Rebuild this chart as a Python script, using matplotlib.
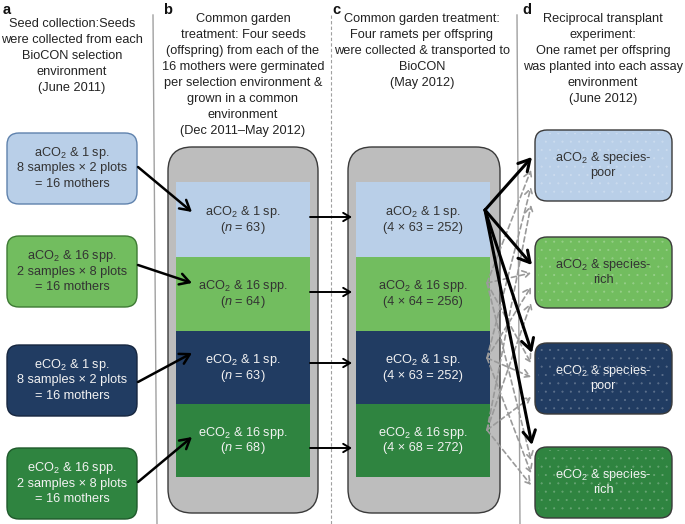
import matplotlib
matplotlib.use('Agg')
import matplotlib.pyplot as plt
from matplotlib.patches import FancyBboxPatch, Rectangle

plt.rcParams['font.family'] = ['Liberation Sans', 'DejaVu Sans']
plt.rcParams['mathtext.fontset'] = 'custom'
plt.rcParams['mathtext.rm'] = 'Liberation Sans'
plt.rcParams['mathtext.it'] = 'Liberation Sans:italic'
plt.rcParams['mathtext.default'] = 'regular'
plt.rcParams['hatch.linewidth'] = 0.3

# ---------------- data ----------------
panel_letters = ['a', 'b', 'c', 'd']
headers = [
    'Seed collection:Seeds\nwere collected from each\nBioCON selection\nenvironment\n(June 2011)',
    'Common garden\ntreatment: Four seeds\n(offspring) from each of the\n16 mothers were germinated\nper selection environment &\ngrown in a common\nenvironment\n(Dec 2011\u2013May 2012)',
    'Common garden treatment:\nFour ramets per offspring\nwere collected & transported to\nBioCON\n(May 2012)',
    'Reciprocal transplant\nexperiment:\nOne ramet per offspring\nwas planted into each assay\nenvironment\n(June 2012)',
]
groups = ['aCO$_2$ & 1 sp.', 'aCO$_2$ & 16 spp.', 'eCO$_2$ & 1 sp.', 'eCO$_2$ & 16 spp.']
designs = ['8 samples \u00d7 2 plots', '2 samples \u00d7 8 plots',
           '8 samples \u00d7 2 plots', '2 samples \u00d7 8 plots']
mothers = [16, 16, 16, 16]
offspring = [63, 64, 63, 68]
ramets_per_offspring = 4
assay_envs = ['aCO$_2$ & species-\npoor', 'aCO$_2$ & species-\nrich',
              'eCO$_2$ & species-\npoor', 'eCO$_2$ & species-\nrich']
fill_colors = ['#b9cfe8', '#72bd5f', '#213c62', '#2f8440']
edge_colors = ['#5f82ad', '#3d7a33', '#16263f', '#1f5a2b']
text_colors = ['#333333', '#333333', '#f2f2f2', '#f2f2f2']

# ---------------- figure ----------------
fig = plt.figure(figsize=(6.85, 5.24), dpi=100)
ax = fig.add_axes([0, 0, 1, 1])
ax.set_xlim(0, 685)
ax.set_ylim(524, 0)
ax.axis('off')

FS = 9.2
LS = 16

# panel letters + headers
letter_x = [3, 163, 332, 522]
header_cx = [72, 243, 422, 603]
header_y0 = [24, 19, 19, 19]
for i in range(4):
    ax.text(letter_x[i], 10, panel_letters[i], fontsize=10.5, fontweight='bold',
            ha='left', va='center', color='#111111')
    for k, line in enumerate(headers[i].split('\n')):
        ax.text(header_cx[i], header_y0[i] + k * LS, line, fontsize=FS,
                ha='center', va='center', color='#222222')

# separators
ax.plot([153, 157], [15, 524], color='#a0a0a0', lw=1.0)
ax.plot([331, 331], [15, 524], color='#a0a0a0', lw=0.8, ls=(0, (3, 2)))
ax.plot([517, 520], [15, 524], color='#a0a0a0', lw=1.0)

# panel a boxes
a_tops = [133, 236, 345, 448]
for i in range(4):
    bx = FancyBboxPatch((7, a_tops[i]), 130, 71,
                        boxstyle='round,pad=0,rounding_size=12',
                        fc=fill_colors[i], ec=edge_colors[i], lw=1.0)
    ax.add_patch(bx)
    cy = a_tops[i] + 35.5
    txt = f'{groups[i]}\n{designs[i]}\n= {mothers[i]} mothers'
    for k, line in enumerate(txt.split('\n')):
        ax.text(72, cy + (k - 1) * 15.5, line, fontsize=FS, ha='center',
                va='center', color=text_colors[i])

# gray containers b and c
for x0, w in [(168, 150), (348, 152)]:
    ax.add_patch(FancyBboxPatch((x0, 147), w, 366,
                                boxstyle='round,pad=0,rounding_size=24',
                                fc='#bdbdbd', ec='#3a3a3a', lw=1.0))

row_edges = [182, 257, 331, 404, 477]
for col, (x0, x1) in enumerate([(176, 310), (356, 490)]):
    for i in range(4):
        ax.add_patch(Rectangle((x0, row_edges[i]), x1 - x0,
                               row_edges[i + 1] - row_edges[i],
                               fc=fill_colors[i], ec='none'))
        cy = (row_edges[i] + row_edges[i + 1]) / 2
        if col == 0:
            second = f'($\\mathit{{n}}$ = {offspring[i]})'
        else:
            second = (f'({ramets_per_offspring} \u00d7 {offspring[i]} = '
                      f'{ramets_per_offspring * offspring[i]})')
        ax.text((x0 + x1) / 2, cy - 7.5, groups[i], fontsize=FS,
                ha='center', va='center', color=text_colors[i])
        ax.text((x0 + x1) / 2, cy + 8, second, fontsize=FS,
                ha='center', va='center', color=text_colors[i])

# panel d boxes
d_tops = [130, 237, 343, 447]
for i in range(4):
    ax.add_patch(FancyBboxPatch((535, d_tops[i]), 137, 71,
                                boxstyle='round,pad=0,rounding_size=12',
                                fc=fill_colors[i], ec='#3a3a3a', lw=1.0))
    ax.add_patch(FancyBboxPatch((538, d_tops[i] + 3), 131, 65,
                                boxstyle='round,pad=0,rounding_size=10',
                                fc='none', ec=(1, 1, 1, 0.22), lw=0,
                                hatch='..'))
    cy = d_tops[i] + 35.5
    for k, line in enumerate(assay_envs[i].split('\n')):
        ax.text(603, cy + (k - 0.5) * 15.5, line, fontsize=FS,
                ha='center', va='center', color=text_colors[i])

solid = dict(arrowstyle='->,head_length=0.7,head_width=0.4', color='black',
             lw=1.8, shrinkA=0, shrinkB=0)
# a -> b arrows
a_start_y = [167, 265, 382, 482]
b_end_y = [212, 283, 353, 437]
for i in range(4):
    ax.annotate('', xy=(192, b_end_y[i]), xytext=(138, a_start_y[i]),
                arrowprops=solid)

# b -> c arrows
bc_y = [217, 292, 363, 448]
for i in range(4):
    ax.annotate('', xy=(352, bc_y[i]), xytext=(310, bc_y[i]),
                arrowprops=dict(arrowstyle='->,head_length=0.5,head_width=0.3',
                                color='black', lw=1.4, shrinkA=0, shrinkB=0))

# c -> d dashed gray (rows 2-4 to every assay box)
dashed = dict(arrowstyle='->,head_length=0.5,head_width=0.3', color='#9a9a9a',
              lw=1.2, ls=(0, (3, 2)), shrinkA=0, shrinkB=0)
d_target_y = [[170, 187, 205], [273, 287, 303], [363, 377, 397], [460, 473, 485]]
src_y = [283, 358, 430]
for s in range(3):
    for j in range(4):
        ax.annotate('', xy=(531, d_target_y[j][s]), xytext=(487, src_y[s]),
                    arrowprops=dashed)

# c -> d solid black from row 1
d_solid_y = [157, 265, 353, 445]
for j in range(4):
    ax.annotate('', xy=(532, d_solid_y[j]), xytext=(485, 210),
                arrowprops=dict(arrowstyle='->,head_length=0.8,head_width=0.45',
                                color='black', lw=2.2, shrinkA=0, shrinkB=0))

fig.savefig('out.png', dpi=100)
